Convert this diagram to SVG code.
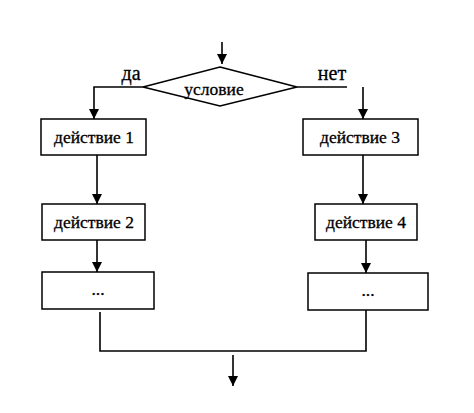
<svg xmlns="http://www.w3.org/2000/svg" width="474" height="413" viewBox="0 0 474 413">
<defs>
<style>
.b{fill:#fff;stroke:#000;stroke-width:1.5}
.l{fill:none;stroke:#000;stroke-width:1.6}
.t{font-family:"Liberation Serif","Times New Roman",serif;font-size:17.5px;fill:#000;text-anchor:middle;stroke:#000;stroke-width:0.3}
.lb{font-size:20px}
</style>
<marker id="a" viewBox="0 0 10 10" refX="10" refY="5" markerWidth="10" markerHeight="11" markerUnits="userSpaceOnUse" orient="auto"><path d="M0,0L10,5L0,10z" fill="#000"/></marker>
</defs>
<rect width="474" height="413" fill="#fff"/>
<g id="connectors">
<line class="l" x1="222" y1="42" x2="222" y2="64" marker-end="url(#a)"/>
<polyline class="l" points="143,87 94,87 94,119" marker-end="url(#a)"/>
<line class="l" x1="297" y1="87" x2="347" y2="87"/>
<line class="l" x1="363" y1="87" x2="363" y2="119" marker-end="url(#a)"/>
<line class="l" x1="97" y1="155" x2="97" y2="204" marker-end="url(#a)"/>
<line class="l" x1="97" y1="240" x2="97" y2="272" marker-end="url(#a)"/>
<line class="l" x1="363" y1="155" x2="363" y2="204" marker-end="url(#a)"/>
<line class="l" x1="366" y1="240" x2="366" y2="273" marker-end="url(#a)"/>
<polyline class="l" points="100,312 100,351 366,351 366,310"/>
<line class="l" x1="233" y1="355" x2="233" y2="386" marker-end="url(#a)"/>
<text class="t lb" x="131" y="80">да</text>
<text class="t lb" x="332" y="80">нет</text>
</g>
<g id="condition">
<polygon class="b" points="220,67 297,87 220,106 143,87"/>
<text class="t" x="214" y="95">условие</text>
</g>
<g id="action1"><rect class="b" x="41" y="119" width="105" height="36"/><text class="t" x="94" y="143">действие 1</text></g>
<g id="action2"><rect class="b" x="42" y="204" width="103" height="36"/><text class="t" x="94" y="228">действие  2</text></g>
<g id="dots1"><rect class="b" x="42" y="272" width="112" height="37"/><text class="t" x="98" y="295">...</text></g>
<g id="action3"><rect class="b" x="303" y="119" width="115" height="36"/><text class="t" x="360" y="143">действие 3</text></g>
<g id="action4"><rect class="b" x="315" y="204" width="102" height="36"/><text class="t" x="366" y="228">действие 4</text></g>
<g id="dots2"><rect class="b" x="308" y="273" width="120" height="37"/><text class="t" x="368" y="296">...</text></g>
</svg>
